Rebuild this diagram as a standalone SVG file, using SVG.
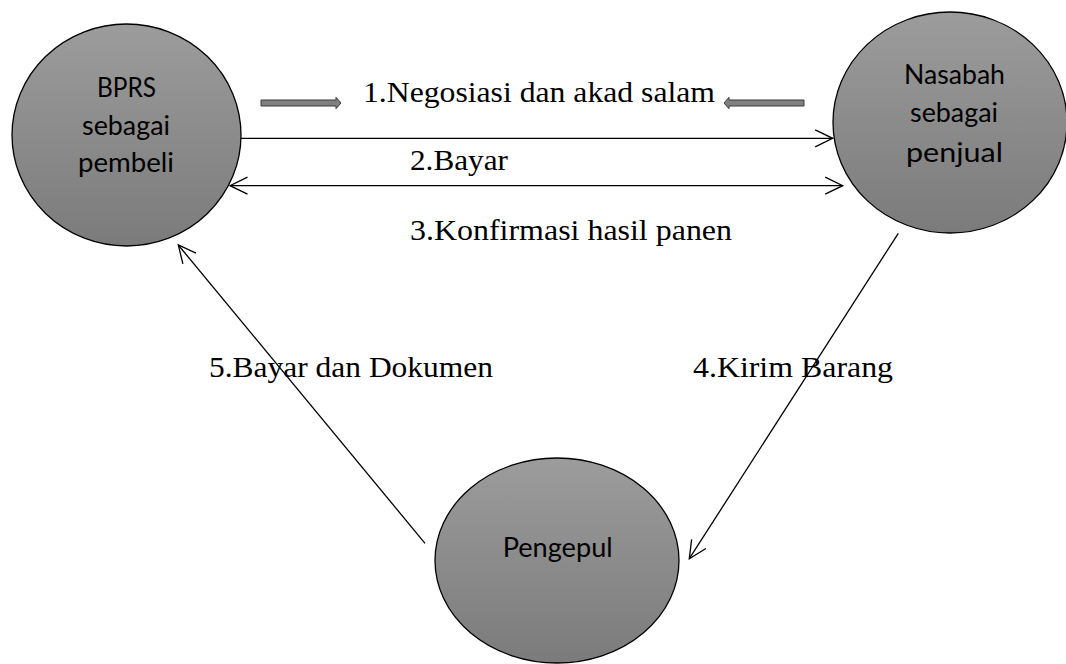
<svg xmlns="http://www.w3.org/2000/svg" width="1066" height="664" viewBox="0 0 1066 664">
<style>
.node{stroke:#000;stroke-width:1.3;fill:url(#g)}
.lbl{font-family:Lato,"Open Sans","Noto Sans",sans-serif;font-size:26px;fill:#000;text-anchor:middle}
.edge{font-family:"Liberation Serif","Times New Roman",serif;font-size:30px;fill:#000}
.conn{stroke:#000;stroke-width:1.3;fill:none}
.blk{fill:#808080;stroke:#3a3a3a;stroke-width:1}
</style>
<defs>
<linearGradient id="g" x1="0" y1="0" x2="0" y2="1">
<stop offset="0" stop-color="#9c9c9c"/>
<stop offset="1" stop-color="#7b7b7b"/>
</linearGradient>
<marker id="arr" viewBox="-20 -11 22 22" refX="0" refY="0" markerWidth="22" markerHeight="22" markerUnits="userSpaceOnUse" orient="auto-start-reverse">
<path d="M -17.5 -8.5 L 0 0 L -17.5 8.5" fill="none" stroke="#000" stroke-width="1.3"/>
</marker>
</defs>
<rect width="1066" height="664" fill="#fff"/>
<g id="connectors">
<line class="conn" x1="241" y1="138.3" x2="832.7" y2="138.3" marker-end="url(#arr)"/>
<line class="conn" x1="230" y1="185.7" x2="842.7" y2="185.7" marker-start="url(#arr)" marker-end="url(#arr)"/>
<line class="conn" x1="898.3" y1="233.3" x2="689.3" y2="558.7" marker-end="url(#arr)"/>
<line class="conn" x1="425" y1="543.3" x2="178.3" y2="245" marker-end="url(#arr)"/>
<path class="blk" d="M261 100 L336 100 L336 97.3 L341 103 L336 108.7 L336 106 L261 106 Z"/>
<path class="blk" d="M804 100 L729 100 L729 97.3 L724 103 L729 108.7 L729 106 L804 106 Z"/>
<text class="edge" x="363" y="102.3" textLength="352" lengthAdjust="spacingAndGlyphs">1.Negosiasi dan akad salam</text>
<text class="edge" x="410" y="170" textLength="98" lengthAdjust="spacingAndGlyphs">2.Bayar</text>
<text class="edge" x="410" y="240" textLength="322" lengthAdjust="spacingAndGlyphs">3.Konfirmasi hasil panen</text>
<text class="edge" x="693" y="376.7" textLength="200" lengthAdjust="spacingAndGlyphs">4.Kirim Barang</text>
<text class="edge" x="209" y="376.7" textLength="284" lengthAdjust="spacingAndGlyphs">5.Bayar dan Dokumen</text>
</g>
<g id="bprs">
<ellipse class="node" cx="126.5" cy="135" rx="114.5" ry="111"/>
<text class="lbl" x="126.5" y="97" textLength="59" lengthAdjust="spacingAndGlyphs">BPRS</text>
<text class="lbl" x="126" y="135" textLength="88" lengthAdjust="spacingAndGlyphs">sebagai</text>
<text class="lbl" x="126" y="172" textLength="96" lengthAdjust="spacingAndGlyphs">pembeli</text>
</g>
<g id="nasabah">
<ellipse class="node" cx="950" cy="122.5" rx="117" ry="110.5"/>
<text class="lbl" x="954.5" y="83.5" textLength="101" lengthAdjust="spacingAndGlyphs">Nasabah</text>
<text class="lbl" x="954" y="122" textLength="88" lengthAdjust="spacingAndGlyphs">sebagai</text>
<text class="lbl" x="954.5" y="161.5" textLength="97" lengthAdjust="spacingAndGlyphs">penjual</text>
</g>
<g id="pengepul">
<ellipse class="node" cx="557" cy="560.5" rx="122" ry="102.5"/>
<text class="lbl" x="557.7" y="557.3" textLength="110" lengthAdjust="spacingAndGlyphs">Pengepul</text>
</g>
</svg>
